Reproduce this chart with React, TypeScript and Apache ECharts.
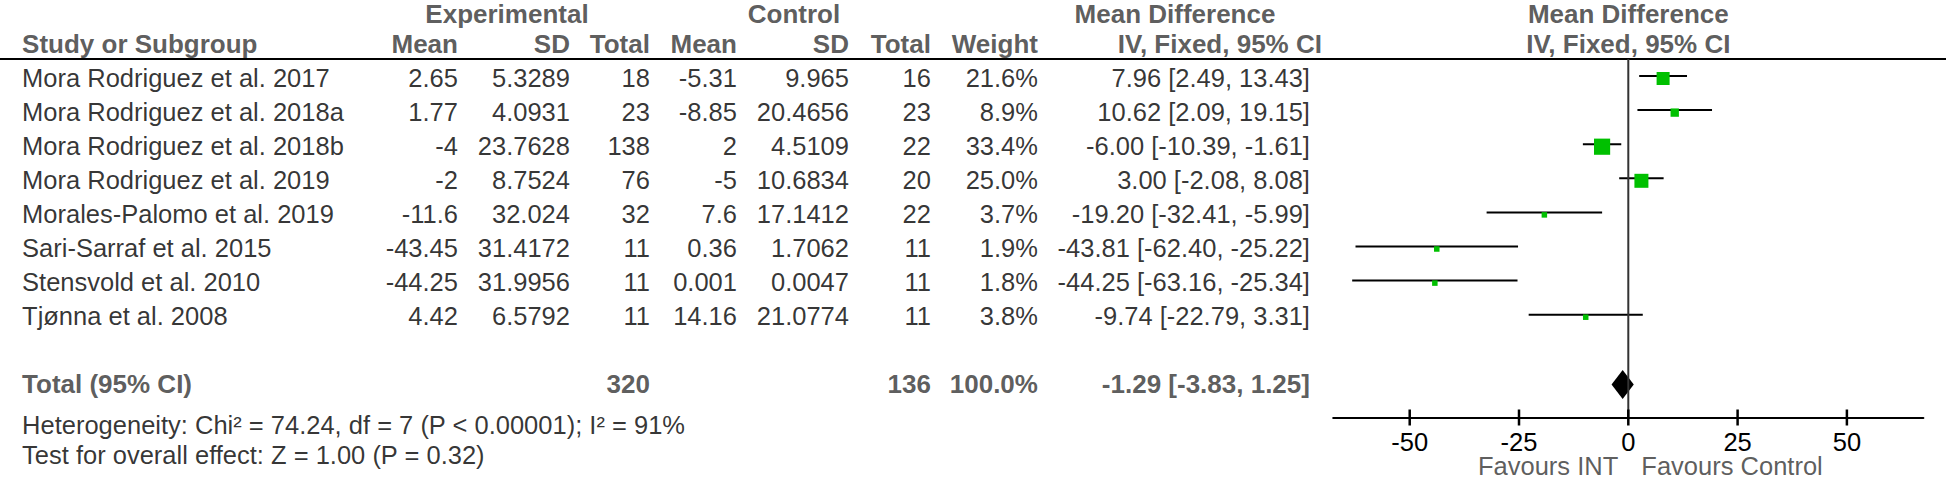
import React, { useEffect, useRef } from "react";
import * as echarts from "echarts";

// ---------- data ----------
const studies = [
  "Mora Rodriguez et al. 2017",
  "Mora Rodriguez et al. 2018a",
  "Mora Rodriguez et al. 2018b",
  "Mora Rodriguez et al. 2019",
  "Morales-Palomo et al. 2019",
  "Sari-Sarraf et al. 2015",
  "Stensvold et al. 2010",
  "Tjønna et al. 2008",
];
const expMean = ["2.65", "1.77", "-4", "-2", "-11.6", "-43.45", "-44.25", "4.42"];
const expSD = ["5.3289", "4.0931", "23.7628", "8.7524", "32.024", "31.4172", "31.9956", "6.5792"];
const expTotal = ["18", "23", "138", "76", "32", "11", "11", "11"];
const ctrlMean = ["-5.31", "-8.85", "2", "-5", "7.6", "0.36", "0.001", "14.16"];
const ctrlSD = ["9.965", "20.4656", "4.5109", "10.6834", "17.1412", "1.7062", "0.0047", "21.0774"];
const ctrlTotal = ["16", "23", "22", "20", "22", "11", "11", "11"];
const weights = [21.6, 8.9, 33.4, 25.0, 3.7, 1.9, 1.8, 3.8];
const meanDiff = [7.96, 10.62, -6.0, 3.0, -19.2, -43.81, -44.25, -9.74];
const ciLow = [2.49, 2.09, -10.39, -2.08, -32.41, -62.4, -63.16, -22.79];
const ciHigh = [13.43, 19.15, -1.61, 8.08, -5.99, -25.22, -25.34, 3.31];

const totalExp = "320";
const totalCtrl = "136";
const totalWeight = "100.0%";
const totalMD = -1.29;
const totalLow = -3.83;
const totalHigh = 1.25;

const heterogeneityText = "Heterogeneity: Chi² = 74.24, df = 7 (P < 0.00001); I² = 91%";
const overallText = "Test for overall effect: Z = 1.00 (P = 0.32)";

const xTicks = [-50, -25, 0, 25, 50];
const xMin = -67.5;
const xMax = 67.5;
const favoursLeft = "Favours INT";
const favoursRight = "Favours Control";

// ---------- layout (pixels / row units) ----------
const FONT = "'Liberation Sans', Arial, sans-serif";
const FS = 25.5;
const FSB = 26;
const W = 1946;
const H = 480;
const ROW_PX = 34.1;
const ROW_TOP = -77.5 / ROW_PX; // row units at y = 0
const ROW_BOTTOM = ROW_TOP + H / ROW_PX; // row units at y = 480
const PLOT_HEIGHT = 417.5;
const AXIS_ROW = ROW_TOP + PLOT_HEIGHT / ROW_PX; // row at the x axis line
const TICK_HALF = 8 / ROW_PX;
const HEAD1 = -1.862;
const HEAD2 = -0.982;
const RULE = -0.5425;
const TOTAL_ROW = 9.0;
const HET_ROW = 10.18;
const TEST_ROW = 11.08;
const FAV_ROW = 11.393;

const COL = {
  study: 22,
  expMean: 458,
  expSD: 570,
  expTotal: 650,
  ctrlMean: 737,
  ctrlSD: 849,
  ctrlTotal: 931,
  weight: 1038,
  md: 1310,
};
const PLOT_LEFT = 1333.2;
const PLOT_WIDTH = 590.2;

const fmt2 = (v: number) => v.toFixed(2);

function textSeries(
  items: { x: number; y: number; t: string }[],
  position: "left" | "right" | "inside",
  opts: { bold?: boolean; color?: string; grid?: number; distance?: number; lineHeight?: number } = {}
) {
  const g = opts.grid ?? 0;
  return {
    type: "scatter",
    xAxisIndex: g,
    yAxisIndex: g,
    symbolSize: 0.1,
    clip: false,
    silent: true,
    itemStyle: { color: "transparent" },
    data: items.map((d) => ({ name: d.t, value: [d.x, d.y] })),
    label: {
      show: true,
      position,
      distance: opts.distance ?? 0,
      formatter: "{b}",
      fontFamily: FONT,
      fontSize: opts.bold ? FSB : FS,
      lineHeight: opts.lineHeight ?? 24,
      fontWeight: opts.bold ? "bold" : "normal",
      color: opts.color ?? "#000",
    },
  };
}

export default function App() {
  const ref = useRef<HTMLDivElement>(null);

  useEffect(() => {
    document.body.style.margin = "0";
    if (!ref.current) return;
    const chart = echarts.init(ref.current, undefined, { renderer: "svg" });

    const rows = studies.map((_, i) => i);
    const col = (x: number, vals: string[]) => vals.map((t, i) => ({ x, y: rows[i], t }));

    const series: any[] = [];

    // header rule
    series.push({
      type: "line",
      xAxisIndex: 0,
      yAxisIndex: 0,
      symbol: "none",
      silent: true,
      lineStyle: { color: "#000", width: 2 },
      data: [
        [0, RULE],
        [W, RULE],
      ],
    });

    // headers
    series.push(
      textSeries(
        [
          { x: 507, y: HEAD1, t: "Experimental" },
          { x: 794, y: HEAD1, t: "Control" },
          { x: 1175, y: HEAD1, t: "Mean Difference" },
        ],
        "inside",
        { bold: true, color: "#333" }
      )
    );
    series.push(
      textSeries([{ x: COL.study, y: HEAD2, t: "Study or Subgroup" }], "right", { bold: true, color: "#333" })
    );
    series.push(
      textSeries(
        [
          { x: COL.expMean, y: HEAD2, t: "Mean" },
          { x: COL.expSD, y: HEAD2, t: "SD" },
          { x: COL.expTotal, y: HEAD2, t: "Total" },
          { x: COL.ctrlMean, y: HEAD2, t: "Mean" },
          { x: COL.ctrlSD, y: HEAD2, t: "SD" },
          { x: COL.ctrlTotal, y: HEAD2, t: "Total" },
          { x: COL.weight, y: HEAD2, t: "Weight" },
          { x: 1322, y: HEAD2, t: "IV, Fixed, 95% CI" },
        ],
        "left",
        { bold: true, color: "#333" }
      )
    );
    // plot headers
    series.push(
      textSeries(
        [
          { x: 0, y: HEAD1, t: "Mean Difference" },
          { x: 0, y: HEAD2, t: "IV, Fixed, 95% CI" },
        ],
        "inside",
        { bold: true, color: "#333", grid: 1 }
      )
    );

    // study rows
    series.push(textSeries(col(COL.study, studies), "right"));
    series.push(
      textSeries(
        [
          ...col(COL.expMean, expMean),
          ...col(COL.expSD, expSD),
          ...col(COL.expTotal, expTotal),
          ...col(COL.ctrlMean, ctrlMean),
          ...col(COL.ctrlSD, ctrlSD),
          ...col(COL.ctrlTotal, ctrlTotal),
          ...col(
            COL.weight,
            weights.map((w) => w.toFixed(1) + "%")
          ),
          ...col(
            COL.md,
            meanDiff.map((m, i) => `${fmt2(m)} [${fmt2(ciLow[i])}, ${fmt2(ciHigh[i])}]`)
          ),
        ],
        "left"
      )
    );

    // total row
    series.push(textSeries([{ x: COL.study, y: TOTAL_ROW, t: "Total (95% CI)" }], "right", { bold: true, color: "#333" }));
    series.push(
      textSeries(
        [
          { x: COL.expTotal, y: TOTAL_ROW, t: totalExp },
          { x: COL.ctrlTotal, y: TOTAL_ROW, t: totalCtrl },
          { x: COL.weight, y: TOTAL_ROW, t: totalWeight },
          { x: COL.md, y: TOTAL_ROW, t: `${fmt2(totalMD)} [${fmt2(totalLow)}, ${fmt2(totalHigh)}]` },
        ],
        "left",
        { bold: true, color: "#333" }
      )
    );
    series.push(
      textSeries(
        [
          { x: COL.study, y: HET_ROW, t: heterogeneityText },
          { x: COL.study, y: TEST_ROW, t: overallText },
        ],
        "right"
      )
    );

    // zero line
    series.push({
      type: "line",
      xAxisIndex: 1,
      yAxisIndex: 1,
      symbol: "none",
      silent: true,
      lineStyle: { color: "#333", width: 2 },
      data: [
        [0, RULE],
        [0, AXIS_ROW],
      ],
    });

    // axis ticks crossing the axis line (one short vertical line per tick value)
    xTicks.forEach((t) => {
      series.push({
        type: "line",
        xAxisIndex: 1,
        yAxisIndex: 1,
        symbol: "none",
        silent: true,
        clip: false,
        z: 6,
        lineStyle: { color: "#000", width: 2.5 },
        data: [
          [t, AXIS_ROW - TICK_HALF],
          [t, AXIS_ROW + TICK_HALF],
        ],
      });
    });

    // CIs and squares
    series.push({
      type: "custom",
      xAxisIndex: 1,
      yAxisIndex: 1,
      silent: true,
      data: studies.map((_, i) => [ciLow[i], ciHigh[i], meanDiff[i], i, weights[i]]),
      renderItem: (_p: any, api: any) => {
        const row = api.value(3);
        const lo = api.coord([api.value(0), row]);
        const hi = api.coord([api.value(1), row]);
        const c = api.coord([api.value(2), row]);
        const size = Math.max(5.5, 2.8 * Math.sqrt(api.value(4)));
        return {
          type: "group",
          children: [
            {
              type: "line",
              shape: { x1: lo[0], y1: lo[1] - 1.5, x2: hi[0], y2: hi[1] - 1.5 },
              style: { stroke: "#000", lineWidth: 2 },
            },
            {
              type: "rect",
              shape: { x: c[0] - size / 2, y: c[1] - size / 2 + 1, width: size, height: size },
              style: { fill: "#00c000" },
            },
          ],
        };
      },
    });

    // diamond
    series.push({
      type: "custom",
      xAxisIndex: 1,
      yAxisIndex: 1,
      silent: true,
      data: [[totalLow, totalHigh, totalMD, TOTAL_ROW]],
      renderItem: (_p: any, api: any) => {
        const row = api.value(3);
        const lo = api.coord([api.value(0), row]);
        const hi = api.coord([api.value(1), row]);
        const c = api.coord([api.value(2), row]);
        const h = 14.5;
        return {
          type: "polygon",
          shape: {
            points: [
              [lo[0], lo[1]],
              [c[0], c[1] - h],
              [hi[0], hi[1]],
              [c[0], c[1] + h],
            ],
          },
          style: { fill: "#000" },
        };
      },
    });

    // favours labels
    series.push(
      textSeries([{ x: 0, y: FAV_ROW, t: favoursLeft }], "left", { grid: 1, color: "#333", distance: 10, lineHeight: 20 })
    );
    series.push(
      textSeries([{ x: 0, y: FAV_ROW, t: favoursRight }], "right", { grid: 1, color: "#333", distance: 13, lineHeight: 20 })
    );

    chart.setOption({
      animation: false,
      backgroundColor: "#fff",
      grid: [
        { left: 0, top: 0, width: W, height: H },
        { left: PLOT_LEFT, top: 0, width: PLOT_WIDTH, height: PLOT_HEIGHT },
      ],
      xAxis: [
        { type: "value", gridIndex: 0, min: 0, max: W, show: false },
        {
          type: "value",
          gridIndex: 1,
          min: xMin,
          max: xMax,
          position: "bottom",
          splitLine: { show: false },
          axisLine: { show: true, onZero: false, lineStyle: { color: "#000", width: 2 } },
          axisTick: { show: false },
          axisLabel: {
            show: true,
            customValues: xTicks,
            margin: 13,
            lineHeight: 22,
            fontFamily: FONT,
            fontSize: FS,
            color: "#000",
          },
        },
      ],
      yAxis: [
        { type: "value", gridIndex: 0, inverse: true, min: ROW_TOP, max: ROW_BOTTOM, show: false },
        { type: "value", gridIndex: 1, inverse: true, min: ROW_TOP, max: AXIS_ROW, show: false },
      ],
      series,
    });

    return () => chart.dispose();
  }, []);

  return <div ref={ref} style={{ width: W, height: H }} />;
}
